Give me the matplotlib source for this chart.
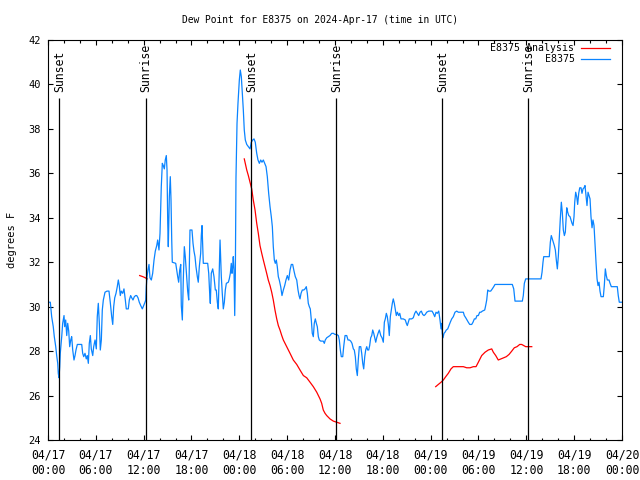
import matplotlib
matplotlib.use("Agg")
import matplotlib.pyplot as plt
import matplotlib.dates as mdates
import pandas as pd

# Dew point for station E8375, 2024-04-17 .. 2024-04-20 (UTC)
# times are hours after 04/17 00:00 UTC, values in deg F

start = pd.Timestamp("2024-04-17 00:00")

obs_hours = [
    0.00, 0.29, 0.46, 0.66, 0.79, 0.97, 1.09, 1.22, 1.29, 1.38, 1.47, 1.54, 1.72, 1.84,
    2.01, 2.09, 2.22, 2.35, 2.47, 2.60, 2.72, 2.85, 2.97, 3.10, 3.26, 3.39, 3.51, 3.68,
    3.80, 4.23, 4.35, 4.48, 4.64, 4.80, 4.93, 5.06, 5.18, 5.31, 5.43, 5.61, 5.73, 5.90,
    6.06, 6.18, 6.31, 6.44, 6.56, 6.69, 6.81, 6.94, 7.15, 7.40, 7.65, 7.81, 7.99, 8.12,
    8.24, 8.37, 8.53, 8.69, 8.82, 8.94, 9.07, 9.19, 9.37, 9.53, 9.70, 9.82, 10.07, 10.20,
    10.37, 10.50, 10.66, 10.83, 11.00, 11.13, 11.29, 11.45, 11.63, 11.83, 12.00, 12.17,
    12.26, 12.33, 12.42, 12.54, 12.67, 12.79, 12.96, 13.13, 13.30, 13.46, 13.64, 13.76,
    13.92, 14.05, 14.21, 14.34, 14.46, 14.59, 14.71, 14.84, 14.93, 15.02, 15.09, 15.22,
    15.34, 15.43, 15.52, 15.59, 16.02, 16.14, 16.27, 16.39, 16.52, 16.65, 16.72, 16.85,
    16.97, 17.10, 17.22, 17.40, 17.52, 17.65, 17.72, 17.81, 18.06, 18.19, 18.31, 18.44,
    18.56, 18.73, 18.85, 18.98, 19.15, 19.23, 19.32, 19.41, 19.48, 20.03, 20.16, 20.28,
    20.36, 20.48, 20.66, 20.82, 20.99, 21.11, 21.24, 21.36, 21.49, 21.58, 21.66, 21.74,
    21.86, 21.99, 22.12, 22.24, 22.37, 22.62, 22.74, 22.87, 22.99, 23.08, 23.17, 23.24,
    23.33, 23.42, 23.50, 23.58, 23.71, 23.83, 24.00, 24.12, 24.25, 24.37, 24.50, 24.62,
    24.75, 24.93, 25.13, 25.34, 25.50, 25.68, 25.84, 26.00, 26.18, 26.34, 26.51, 26.68,
    26.84, 27.01, 27.18, 27.35, 27.51, 27.68, 27.85, 28.01, 28.14, 28.26, 28.39, 28.51,
    28.64, 28.76, 28.89, 29.01, 29.19, 29.35, 29.52, 29.69, 29.85, 30.02, 30.19, 30.36,
    30.52, 30.69, 30.86, 31.02, 31.20, 31.36, 31.49, 31.61, 31.74, 31.90, 32.08, 32.24,
    32.40, 32.53, 32.65, 32.78, 32.90, 33.03, 33.15, 33.28, 33.40, 33.53, 33.66, 33.78,
    33.91, 34.03, 34.21, 34.37, 34.53, 34.66, 34.78, 34.96, 35.16, 35.37, 35.59, 35.79,
    36.00, 36.21, 36.42, 36.54, 36.67, 36.79, 36.97, 37.09, 37.26, 37.47, 37.63, 37.80,
    37.97, 38.13, 38.30, 38.42, 38.55, 38.67, 38.80, 38.92, 39.05, 39.23, 39.35, 39.48,
    39.60, 39.73, 39.85, 39.98, 40.10, 40.23, 40.35, 40.48, 40.61, 40.73, 40.86, 40.98,
    41.11, 41.23, 41.40, 41.56, 41.74, 41.90, 42.06, 42.19, 42.31, 42.44, 42.56, 42.69,
    42.81, 42.94, 43.06, 43.19, 43.31, 43.44, 43.57, 43.69, 43.82, 43.99, 44.12, 44.28,
    44.57, 44.82, 44.95, 45.07, 45.20, 45.32, 45.62, 45.82, 46.00, 46.16, 46.33, 46.50,
    46.66, 46.83, 47.00, 47.17, 47.33, 47.50, 47.76, 48.01, 48.17, 48.33, 48.51, 48.67,
    48.83, 49.01, 49.05, 49.17, 49.30, 49.39, 49.46, 49.55, 49.67, 49.80, 49.96, 50.14,
    50.30, 50.46, 50.64, 50.84, 51.05, 51.27, 51.47, 52.10, 52.22, 52.40, 52.56, 52.72,
    52.90, 53.15, 53.31, 53.48, 53.65, 53.81, 53.98, 54.15, 54.31, 54.48, 54.78, 54.90,
    55.03, 55.16, 55.32, 55.53, 55.73, 55.91, 56.07, 58.24, 58.42, 58.58, 59.50, 59.62,
    59.75, 59.92, 61.84, 61.97, 62.09, 62.18, 62.88, 63.01, 63.13, 63.26, 63.38, 63.51,
    63.64, 63.76, 63.89, 64.01, 64.14, 64.26, 64.39, 64.51, 64.64, 64.77, 64.89, 65.07,
    65.19, 65.32, 65.48, 65.60, 65.73, 65.86, 65.98, 66.07, 66.19, 66.32, 66.44, 66.57,
    66.70, 66.86, 66.98, 67.11, 67.24, 67.36, 67.49, 67.61, 67.74, 67.86, 67.99, 68.11,
    68.24, 68.36, 68.49, 68.62, 68.74, 68.87, 68.99, 69.12, 69.24, 69.37, 69.66, 69.78,
    69.91, 70.03, 70.16, 70.37, 70.50, 70.66, 71.41, 71.53, 71.66, 71.94,
]
obs_dew = [
    30.2, 30.2, 29.55, 29.1, 28.65, 28.2, 27.8, 27.45, 27.0, 26.8, 27.3, 27.9, 28.65, 29.25,
    29.6, 29.1, 29.4, 28.7, 29.25, 28.9, 28.2, 28.5, 28.65, 28.05, 27.6, 27.8, 28.05, 28.3,
    28.3, 28.3, 27.9, 27.75, 27.9, 27.65, 27.8, 27.45, 28.35, 28.7, 28.1, 27.8, 28.2, 28.5,
    28.1, 29.55, 30.15, 29.25, 28.05, 28.5, 29.85, 30.3, 30.65, 30.7, 30.7, 30.2, 29.55, 29.2,
    30.0, 30.4, 30.6, 30.9, 31.2, 30.95, 30.5, 30.7, 30.6, 30.8, 30.3, 29.9, 29.9, 30.3,
    30.5, 30.4, 30.3, 30.45, 30.5, 30.5, 30.4, 30.2, 30.05, 29.9, 30.05, 30.2,
    30.3, 30.9, 31.35, 31.65, 31.9, 31.3, 31.2, 31.5, 32.1, 32.5, 32.75, 33.0,
    32.55, 33.3, 35.4, 36.45, 36.35, 36.2, 36.6, 36.8, 36.15, 33.75, 32.7, 34.95,
    35.85, 34.8, 33.0, 32.0, 31.95, 31.65, 31.35, 31.1, 31.65, 31.9, 30.05, 29.4,
    31.2, 32.7, 32.25, 31.35, 30.7, 30.3, 31.65, 33.45, 33.45, 32.85, 32.5, 32.25,
    31.8, 31.35, 31.1, 31.8, 32.4, 33.2, 33.65, 32.7, 31.95, 31.95, 31.5, 30.6,
    30.15, 31.5, 31.7, 31.35, 30.75, 30.75, 30.2, 29.9, 31.65, 33.0, 32.2, 31.35,
    30.6, 29.9, 30.2, 30.75, 31.05, 31.1, 31.25, 31.5, 31.95, 31.5, 31.8, 32.25,
    31.65, 29.6, 31.5, 35.8, 38.25, 39.15, 40.2, 40.65, 40.35, 39.6, 38.85, 37.95,
    37.5, 37.3, 37.2, 37.1, 37.4, 37.5, 37.55, 37.4, 36.9, 36.6, 36.45, 36.6,
    36.5, 36.6, 36.45, 36.3, 35.85, 35.1, 34.5, 34.05, 33.6, 32.7, 32.1, 31.95,
    32.1, 31.8, 31.35, 31.2, 30.9, 30.5, 30.75, 30.95, 31.2, 31.4, 31.2, 31.65,
    31.9, 31.9, 31.6, 31.35, 31.2, 30.75, 30.5, 30.35, 30.6, 30.75, 30.75, 30.8,
    30.9, 30.6, 30.15, 30.0, 29.9, 29.4, 28.8, 28.65, 29.25, 29.45, 29.25, 29.1,
    28.65, 28.5, 28.45, 28.45, 28.45, 28.35, 28.5, 28.6, 28.65, 28.7, 28.8, 28.8,
    28.75, 28.75, 28.7, 28.5, 28.05, 27.75, 27.75, 28.2, 28.7, 28.7, 28.5, 28.5,
    28.45, 28.35, 28.1, 28.05, 27.75, 27.2, 26.9, 27.6, 28.2, 28.2, 27.9, 27.45,
    27.2, 27.75, 28.05, 28.2, 28.05, 28.05, 28.25, 28.6, 28.7, 28.95, 28.8, 28.6,
    28.4, 28.6, 28.8, 28.95, 28.7, 28.6, 28.4, 29.3, 29.45, 29.7, 29.55, 29.2,
    28.7, 29.55, 29.85, 30.15, 30.35, 30.15, 29.85, 29.6, 29.75, 29.6, 29.7, 29.45,
    29.45, 29.4, 29.25, 29.15, 29.3, 29.45, 29.45, 29.5, 29.7, 29.8, 29.7, 29.6,
    29.75, 29.8, 29.65, 29.6, 29.65, 29.75, 29.8, 29.8, 29.8, 29.7, 29.55, 29.75,
    29.7, 29.8, 29.7, 29.4, 29.0, 29.25, 28.8, 28.6, 28.8, 28.85, 28.95, 29.0,
    29.15, 29.3, 29.45, 29.55, 29.75, 29.8, 29.75, 29.75, 29.6, 29.5, 29.4, 29.3,
    29.2, 29.2, 29.3, 29.45, 29.45, 29.6, 29.6, 29.75, 29.75, 29.8, 29.85, 30.05,
    30.3, 30.75, 30.7, 30.7, 30.8, 30.9, 31.0, 31.0, 30.8, 30.25, 30.25, 30.5,
    31.05, 31.25, 31.25, 31.55, 32.0, 32.25, 32.25, 32.9, 33.2, 33.05, 32.9, 32.75,
    32.55, 32.1, 31.7, 32.25, 33.15, 33.95, 34.7, 34.25, 33.45, 33.2, 33.35, 34.45,
    34.25, 34.1, 34.05, 33.9, 33.75, 33.65, 34.05, 34.7, 35.15, 34.95, 34.6, 35.1,
    35.35, 35.35, 35.1, 35.3, 35.35, 35.45, 35.0, 34.55, 35.15, 35.0, 34.85, 34.05,
    33.55, 33.9, 33.65, 32.75, 32.0, 31.25, 30.95, 31.1, 30.7, 30.45, 30.45, 30.95,
    31.7, 31.4, 31.2, 31.2, 31.05, 30.9, 30.9, 30.5, 30.2, 30.2,
]

# analysis runs (three separate pieces)
ana1_hours = [11.5, 11.9, 12.2, 12.45]
ana1_dew = [31.4, 31.35, 31.3, 31.25]

ana2_hours = [
    24.62, 24.93, 25.13, 25.34, 25.55, 25.75, 25.97, 26.18, 26.38, 26.59, 26.81, 27.01,
    27.22, 27.43, 27.63, 27.85, 28.06, 28.26, 28.47, 28.69, 28.89, 29.10, 29.32, 29.52,
    29.73, 29.94, 30.36, 30.77, 31.20, 31.61, 32.03, 32.45, 32.87, 33.28, 33.71, 34.12,
    34.33, 34.53, 34.75, 34.96, 35.37, 35.79, 36.21, 36.63,
]
ana2_dew = [
    36.65, 36.15, 35.9, 35.6, 35.3, 34.8, 34.35, 33.75, 33.3, 32.75, 32.4, 32.1,
    31.8, 31.5, 31.2, 30.95, 30.65, 30.3, 29.85, 29.45, 29.15, 28.95, 28.7, 28.5,
    28.35, 28.2, 27.9, 27.6, 27.4, 27.15, 26.9, 26.8, 26.6, 26.4, 26.15, 25.85,
    25.65, 25.35, 25.2, 25.1, 24.95, 24.85, 24.8, 24.75,
]

ana3_hours = [
    48.63, 48.96, 49.30, 49.59, 49.89, 50.21, 50.55, 50.84, 51.27, 51.68, 52.10, 52.52,
    52.94, 53.35, 53.69, 53.98, 54.40, 54.82, 55.23, 55.66, 55.86, 56.16, 56.48, 56.82,
    57.16, 57.49, 57.83, 58.17, 58.49, 58.83, 59.17, 59.42, 59.67, 59.92, 60.68,
]
ana3_dew = [
    26.4, 26.5, 26.6, 26.7, 26.85, 27.0, 27.2, 27.3, 27.3, 27.3, 27.3, 27.25,
    27.25, 27.3, 27.3, 27.5, 27.8, 27.95, 28.05, 28.1, 27.95, 27.8, 27.6, 27.65,
    27.7, 27.75, 27.85, 28.0, 28.15, 28.2, 28.3, 28.3, 28.25, 28.2, 28.2,
]

sun_times = ["2024-04-17 01:25", "2024-04-17 12:16", "2024-04-18 01:30",
             "2024-04-18 12:10", "2024-04-19 01:28", "2024-04-19 12:15"]
sun_labels = ["Sunset", "Sunrise", "Sunset", "Sunrise", "Sunset", "Sunrise"]

BLUE = "#0a84ff"
RED = "#ff0000"

plt.rcParams["font.family"] = "DejaVu Sans Mono"
plt.rcParams["font.size"] = 7.5


def to_time(hours):
    return start + pd.to_timedelta(hours, unit="h")


fig = plt.figure(figsize=(6.4, 4.8), dpi=100)
ax = fig.add_axes([48 / 640, 40 / 480, 574 / 640, 400 / 480])

ax.plot(to_time(ana1_hours), ana1_dew, color=RED, lw=0.9, label="E8375 Analysis")
ax.plot(to_time(ana2_hours), ana2_dew, color=RED, lw=0.9)
ax.plot(to_time(ana3_hours), ana3_dew, color=RED, lw=0.9)
ax.plot(to_time(obs_hours), obs_dew, color=BLUE, lw=0.9, label="E8375")

for t, lab in zip(sun_times, sun_labels):
    ts = pd.Timestamp(t)
    ax.vlines(ts, 24, 39.4, color="black", lw=0.9)
    ax.text(ts, 39.65, lab, rotation=90, ha="center", va="bottom", fontsize=8.3)

ax.set_xlim(start, start + pd.Timedelta(hours=72))
ax.set_ylim(24, 42)
ax.set_yticks(range(24, 43, 2))

ax.xaxis.set_major_locator(mdates.HourLocator(byhour=[0, 6, 12, 18]))
ax.xaxis.set_minor_locator(mdates.HourLocator(interval=2))
ax.xaxis.set_major_formatter(mdates.DateFormatter("%m/%d\n%H:%M"))

ax.tick_params(which="both", direction="in", top=True, right=True, width=0.8)
ax.tick_params(which="major", length=3.6)
ax.tick_params(which="minor", length=1.8)
ax.tick_params(axis="x", pad=6, labelsize=8.3)
ax.tick_params(axis="y", pad=5)
for lab in ax.get_xticklabels():
    lab.set_linespacing(1.3)
for s in ax.spines.values():
    s.set_linewidth(0.8)

ax.set_ylabel("degrees F", labelpad=8)
fig.text(0.5, 1 - 20 / 480, "Dew Point for E8375 on 2024-Apr-17 (time in UTC)",
         ha="center", va="center", fontsize=6.9)

ax.legend(loc="upper right", bbox_to_anchor=(1 - 12 / 574, 1 - 3 / 400), frameon=False,
          markerfirst=False, borderpad=0, borderaxespad=0, handlelength=2.9,
          handletextpad=0.7, labelspacing=0.15, fontsize=7.1)

fig.savefig("out.png", dpi=100)
